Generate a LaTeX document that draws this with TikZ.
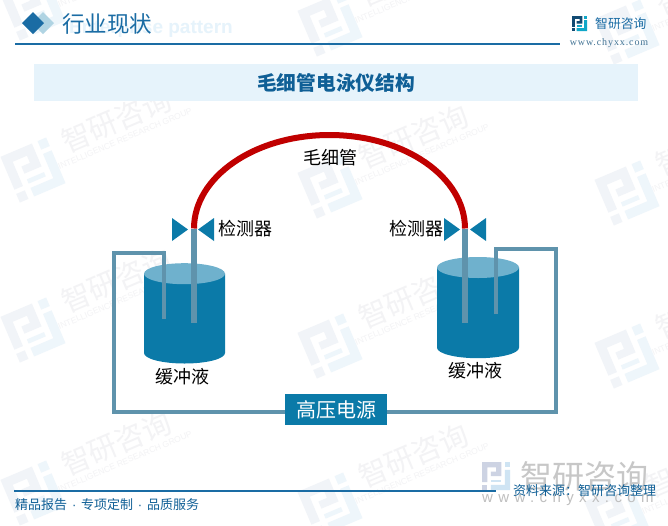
\documentclass[tikz,border=0pt]{standalone}
\usepackage{fontspec}
\setmainfont{Liberation Sans}
\newfontfamily\cjk{Noto Sans CJK SC}
\newfontfamily\lat{Liberation Sans}
\newfontfamily\latserif[LetterSpace=9]{Liberation Serif}
\newfontfamily\latwide[LetterSpace=36]{Liberation Sans}
\definecolor{hdr}{HTML}{1A6CA4}
\definecolor{deep}{HTML}{0F5F96}
\definecolor{band}{HTML}{E6F3FB}
\definecolor{cyl}{HTML}{0B7AA8}
\definecolor{cyltop}{HTML}{6FB1CD}
\definecolor{tube}{HTML}{5F93AC}
\definecolor{capred}{HTML}{C00000}
\definecolor{wmA}{HTML}{F1F4F8}
\definecolor{wmB}{HTML}{EEF6FB}
\definecolor{wmT}{HTML}{F3F3F5}
\definecolor{bigA}{HTML}{CDD3E3}
\definecolor{bigB}{HTML}{CFE4F3}
\newcommand{\logoshape}[2]{%
  \fill[#1] (0,0) -- (11,0) -- (11,8) -- (5,8) -- (5,5.5) -- (8,5.5) -- (8,3) -- (3,3) -- (3,11.5) -- (0,11.5) -- cycle;
  \fill[#1] (0,13) rectangle (3,16);
  \fill[#2] (13,0) rectangle (16,3);
  \fill[#2] (13,4.5) -- (16,4.5) -- (16,16) -- (5,16) -- (5,13) -- (13,13) -- cycle;
  \fill[#2] (5,10) rectangle (11,11.5);
}
\tikzset{
  x=1pt,y=-1pt,
  wmlogo/.pic={
    \begin{scope}[scale=3.1,shift={(-8,-8)}]\logoshape{wmA}{wmB}\end{scope}
    \node[transform shape,text=wmT,font=\cjk\fontsize{29}{29}\selectfont,inner sep=0pt] (-t) at (96,-13) {智研咨询};
    \node[transform shape,text=wmT,font=\lat\fontsize{8.5}{8.5}\selectfont,inner sep=0pt] (-s) at (97,7) {INTELLIGENCE RESEARCH GROUP};
  },
  lab/.style={inner sep=0pt,text=black,font=\cjk\fontsize{18}{18}\selectfont},
  tubeline/.style={draw=tube,line width=4pt,line join=miter},
  captube/.style={draw=tube,line width=6pt},
  triang/.style={fill=cyl},
}
\begin{document}
\begin{tikzpicture}
\useasboundingbox (0,0) rectangle (668,525);
\fill[white] (0,0) rectangle (668,525);
% watermarks
\foreach \px/\py [count=\i] in {33/8,330/24,627/32,33/170,330/186,627/193,33/330,330/346,627/356,33/493,330/505,617/515}{
  \pic[rotate=23] (wm\i) at (\px,\py) {wmlogo};
}
% header
\node[inner sep=0pt,anchor=east,text=band,font=\lat\bfseries\fontsize{19}{19}\selectfont] (ghost) at (233,29) {Enterprise pattern};
\fill[cyltop!55] (43,12) -- (54,23) -- (43,34) -- (32,23) -- cycle;
\fill[hdr] (33,12) -- (44,23) -- (33,34) -- (22,23) -- cycle;
\node[inner sep=0pt,anchor=west,text=hdr,font=\cjk\fontsize{22.5}{22.5}\selectfont] (head) at (62,23.5) {行业现状};
\coordinate (hl) at (15,44); \coordinate (hr) at (560,44);
\draw[hdr,line width=1.3pt] (hl) -- (hr);
% corner logo
\begin{scope}[shift={(572,16)},scale=0.94]\logoshape{hdr!70!black}{hdr!60!cyan}\end{scope}
\node[inner sep=0pt,anchor=west,text=hdr,font=\cjk\fontsize{12.8}{12.8}\selectfont] (brand) at (595,23.5) {智研咨询};
\node[inner sep=0pt,anchor=center,text=hdr!60!gray,font=\latserif\fontsize{10}{10}\selectfont] (web) at (609,43) {www.chyxx.com};
% title band
\node[fill=band,minimum width=604pt,minimum height=37pt,inner sep=0pt,text=deep,font=\cjk\bfseries\fontsize{19.7}{19.7}\selectfont] (title) at (336,82.5) {毛细管电泳仪结构};
% left cylinder
\fill[cyl] (144,273.7) -- (144,353) arc[start angle=180,end angle=360,x radius=40.5,y radius=-10.5] -- (225,273.7) -- cycle;
\fill[cyltop] (184.5,273.7) ellipse[x radius=40.5,y radius=10.5];
% right cylinder
\fill[cyl] (437,267.5) -- (437,347.7) arc[start angle=180,end angle=360,x radius=41,y radius=-10.5] -- (519,267.5) -- cycle;
\fill[cyltop] (478,267.5) ellipse[x radius=41,y radius=10.5];
% power source
\node[fill=cyl,minimum width=102pt,minimum height=31pt,inner sep=0pt,text=white,font=\cjk\fontsize{20}{20}\selectfont] (hv) at (336,409.5) {高压电源};
% wires
\coordinate (lwe) at (164,319); \coordinate (lwc) at (113.5,253);
\coordinate (rwe) at (495.5,314); \coordinate (rwc) at (555.5,249);
\draw[tubeline] (lwe) |- (lwc) |- (hv.west |- 0,412);
\draw[tubeline] (rwe) |- (rwc) |- (hv.east |- 0,411.5);
% capillary
\coordinate (cl) at (194,228.5); \coordinate (cr) at (465,228.5);
\coordinate (clb) at (194,323); \coordinate (crb) at (465,323);
\draw[captube] (cl) -- (clb);
\draw[captube] (cr) -- (crb);
\draw[capred,line width=6pt] (cl) arc[start angle=180,end angle=0,x radius=135.5,y radius=-93.5];
% detectors
\fill[triang] (172,218) -- (188,229.5) -- (172,241) -- cycle;
\fill[triang] (214,218) -- (198,229.5) -- (214,241) -- cycle;
\fill[triang] (444,218) -- (460,229.5) -- (444,241) -- cycle;
\fill[triang] (486,218) -- (470,229.5) -- (486,241) -- cycle;
% labels
\node[lab] (cap) at (330,158) {毛细管};
\node[lab] (dl) at (245.5,229) {检测器};
\node[lab] (dr) at (416,229) {检测器};
\node[lab] (bl) at (182.5,377) {缓冲液};
\node[lab] (br) at (475.5,371) {缓冲液};
% footer watermark
\begin{scope}[shift={(482,462)},scale=1.75]\logoshape{bigA}{bigB}\end{scope}
\node[inner sep=0pt,anchor=west,text=black!22,font=\cjk\fontsize{32}{32}\selectfont] (bigb) at (520,476) {智研咨询};
\node[inner sep=0pt,anchor=west,text=black!25,font=\latwide\fontsize{15}{15}\selectfont] (bigw) at (482,499) {www.chyxx.com};
% footer
\coordinate (fl) at (14,491); \coordinate (fr) at (496,491);
\draw[hdr,line width=1.2pt] (fl) -- (fr);
\node[inner sep=0pt,anchor=west,text=deep,font=\cjk\fontsize{13}{13}\selectfont] (src) at (513,491) {资料来源：智研咨询整理};
\node[inner sep=0pt,anchor=west,text=deep,font=\cjk\fontsize{13}{13}\selectfont] (foot) at (15,505) {精品报告\hspace{4.8pt}{\lat ·}\hspace{4.8pt}专项定制\hspace{4.8pt}{\lat ·}\hspace{4.8pt}品质服务};
\end{tikzpicture}
\end{document}
